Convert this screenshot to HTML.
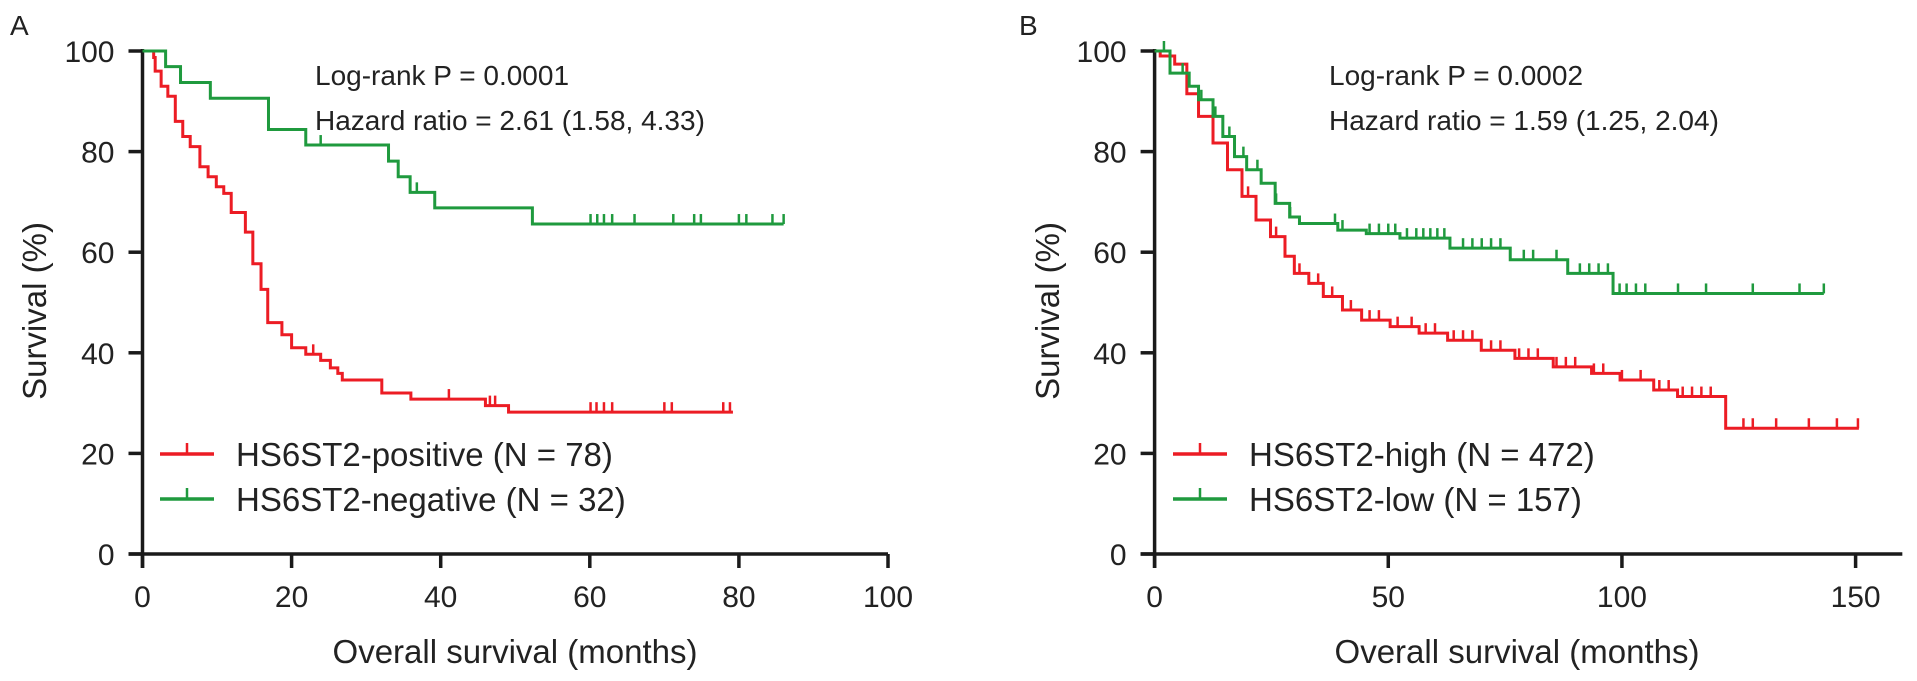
<!DOCTYPE html>
<html><head><meta charset="utf-8"><style>
html,body{margin:0;padding:0;background:#fff;}
svg{display:block;font-family:"Liberation Sans",Arial,sans-serif;}
</style></head><body>
<svg id="fig" width="1917" height="681" viewBox="0 0 1917 681"></svg>
<script>
// ---- Panel A data ----
const aPosTimes = [0,1.5,1.7,2.5,3.4,4.4,5.4,6.4,7.7,8.8,9.9,10.9,11.9,13.8,14.8,15.9,16.8,18.7,20,21.9,23.9,25.2,26.2,26.8,32.1,36,46,49.1,79.2];
const aPosSurv  = [100,98.7,96,93,91,86,83,81,77,75,73,71.7,67.9,64,57.7,52.6,46,43.6,41,39.7,38.5,37,35.9,34.6,32,30.8,29.5,28.2,28.2];
const aPosCens  = [22.9,41.1,46.6,47.3,60.1,60.9,61.9,63,70,71,77.9,78.8];
const aNegTimes = [0,3.1,5.1,9.1,16.9,21.9,33,34.3,35.9,39.2,52.3,86];
const aNegSurv  = [100,96.9,93.75,90.6,84.4,81.3,78.1,75,71.9,68.8,65.6,65.6];
const aNegCens  = [23.9,36.8,60.1,61,61.9,63,66,71.2,74,74.9,80,81,84.5,86];
const aXTicks = [0,20,40,60,80,100];
const yTicks = [0,20,40,60,80,100];
// ---- Panel B data ----
const bHighTimes = [0,1.2,4.3,6.9,9.4,12.5,15.6,18.7,21.7,24.8,27.9,29.9,33,36.1,40.2,44.3,50.4,56.6,62.7,69.9,77.1,85.3,93.5,99.6,106.8,111.9,122.2,150.7];
const bHighSurv  = [100,99,97.4,91.5,87,81.7,76.4,71.1,66.4,63.1,59.2,55.8,53.8,51.2,48.5,46.5,45.2,43.9,42.5,40.5,38.9,37.2,35.9,34.6,32.6,31.3,25,25];
const bHighCens  = [20,26,31,35,38,42,46,48,52,55,58,60,64,66,68,72,74,78,80,82,86,88,90,94,96,100,104,108,110,113,115,117,119,126,128,133,140,146,150.5];
const bLowTimes = [0,3.3,7.4,9.4,12.5,14.6,17.1,19.7,22.8,25.8,28.9,31,39.2,45.3,52.5,63.2,76.1,88.4,98.1,143.2];
const bLowSurv  = [100,95.6,93,90.3,87,83,79,76.4,73.7,69.7,67,65.7,64.4,63.7,62.8,60.8,58.5,55.8,51.8,51.8];
const bLowCens  = [2,6,10,13,16,19,22,26,29,38.6,40.2,46,48,50,51.5,54,56,57.5,59,60.5,62,66,68,70,72,74,79,81,86,91,93,95,97,99.5,101,103,105,112,118,128,138,143.2];
const bXTicks = [0,50,100,150];

const NS="http://www.w3.org/2000/svg";
const svg=document.getElementById('fig');
function mk(tag,attrs,parent){const e=document.createElementNS(NS,tag);for(const k in attrs)e.setAttribute(k,attrs[k]);(parent||svg).appendChild(e);return e;}
function txt(s,attrs,parent){const e=mk('text',attrs,parent);e.textContent=s;return e;}

function panel(cfg){
  const g=mk('g',{});
  
  
  const x=v=>cfg.x0+v*(cfg.x1-cfg.x0)/cfg.xmax;
  const y=v=>cfg.y0-v*(cfg.y0-cfg.y100)/100;
  const lbl=txt(cfg.letter,{x:cfg.letterX,y:35,'font-size':28,fill:'#222'},g);
  
  
  const ya=mk('line',{x1:cfg.x0,y1:y(100)-2,x2:cfg.x0,y2:cfg.y0+14,stroke:'#1a1a1a','stroke-width':3.5},g);
  
  
  const xa=mk('line',{x1:cfg.x0-14,y1:cfg.y0,x2:x(cfg.axisEnd),y2:cfg.y0,stroke:'#1a1a1a','stroke-width':3.5},g);
  
  
  yTicks.forEach(v=>{
    mk('line',{x1:cfg.x0-14,y1:y(v),x2:cfg.x0,y2:y(v),stroke:'#1a1a1a','stroke-width':3.5},g);
    const t=txt(String(v),{x:cfg.x0-28,y:y(v)+11,'font-size':30,'text-anchor':'end',fill:'#222'},g);
    
    
  });
  cfg.xticks.forEach(v=>{
    mk('line',{x1:x(v),y1:cfg.y0,x2:x(v),y2:cfg.y0+14,stroke:'#1a1a1a','stroke-width':3.5},g);
    const t=txt(String(v),{x:x(v),y:607,'font-size':30,'text-anchor':'middle',fill:'#222'},g);
    
    
  });
  const xt=txt('Overall survival (months)',{x:cfg.xTitleX,y:663,'font-size':33,'text-anchor':'middle',fill:'#222'},g);
  
  
  const yt=txt('Survival (%)',{x:0,y:0,'font-size':33,'text-anchor':'middle',fill:'#222',transform:`translate(${cfg.yTitleX},311) rotate(-90)`},g);
  
  
  cfg.series.forEach(s=>{
    let d=`M${x(s.t[0])},${y(s.v[0])}`;
    for(let i=1;i<s.t.length;i++){d+=` H${x(s.t[i])} V${y(s.v[i])}`;}
    const p=mk('path',{d,fill:'none',stroke:s.color,'stroke-width':3},g);
    
    
    s.c.forEach(ct=>{
      let sv=s.v[0];
      for(let i=0;i<s.t.length;i++){if(s.t[i]<=ct)sv=s.v[i];}
      const m=mk('line',{x1:x(ct),y1:y(sv)-10,x2:x(ct),y2:y(sv),stroke:s.color,'stroke-width':2.5},g);
      
      
    });
  });
  const a1=txt(cfg.p,{x:cfg.annX,y:85,'font-size':28,fill:'#222'},g);
  
  
  const a2=txt(cfg.hr,{x:cfg.annX,y:130,'font-size':28,fill:'#222'},g);
  
  
  cfg.series.forEach((s,i)=>{
    const ly=i===0?454:499;
    const le=mk('g',{},g);
    
    
    mk('line',{x1:cfg.legX,y1:ly,x2:cfg.legX+54,y2:ly,stroke:s.color,'stroke-width':3.5},le);
    mk('line',{x1:cfg.legX+27,y1:ly-11,x2:cfg.legX+27,y2:ly,stroke:s.color,'stroke-width':2.5},le);
    txt(s.label,{x:cfg.legX+76,y:ly+12,'font-size':33,fill:'#222'},le);
  });
}
const RED='#ec1c24', GREEN='#1f9a3e';
panel({name:'panel-a',letter:'A',letterX:10,x0:142.5,x1:888,xmax:100,axisEnd:100,y0:554,y100:51,xticks:aXTicks,
  xTitleX:515,yTitleX:46,annX:315,legX:160,p:'Log-rank P = 0.0001',hr:'Hazard ratio = 2.61 (1.58, 4.33)',
  series:[{name:'hs6st2-positive',label:'HS6ST2-positive (N = 78)',color:RED,t:aPosTimes,v:aPosSurv,c:aPosCens},
          {name:'hs6st2-negative',label:'HS6ST2-negative (N = 32)',color:GREEN,t:aNegTimes,v:aNegSurv,c:aNegCens}]});
panel({name:'panel-b',letter:'B',letterX:1019,x0:1154.6,x1:1855.6,xmax:150,axisEnd:160,y0:554,y100:51,xticks:bXTicks,
  xTitleX:1517,yTitleX:1059,annX:1329,legX:1173,p:'Log-rank P = 0.0002',hr:'Hazard ratio = 1.59 (1.25, 2.04)',
  series:[{name:'hs6st2-high',label:'HS6ST2-high (N = 472)',color:RED,t:bHighTimes,v:bHighSurv,c:bHighCens},
          {name:'hs6st2-low',label:'HS6ST2-low (N = 157)',color:GREEN,t:bLowTimes,v:bLowSurv,c:bLowCens}]});
</script>
</body></html>
